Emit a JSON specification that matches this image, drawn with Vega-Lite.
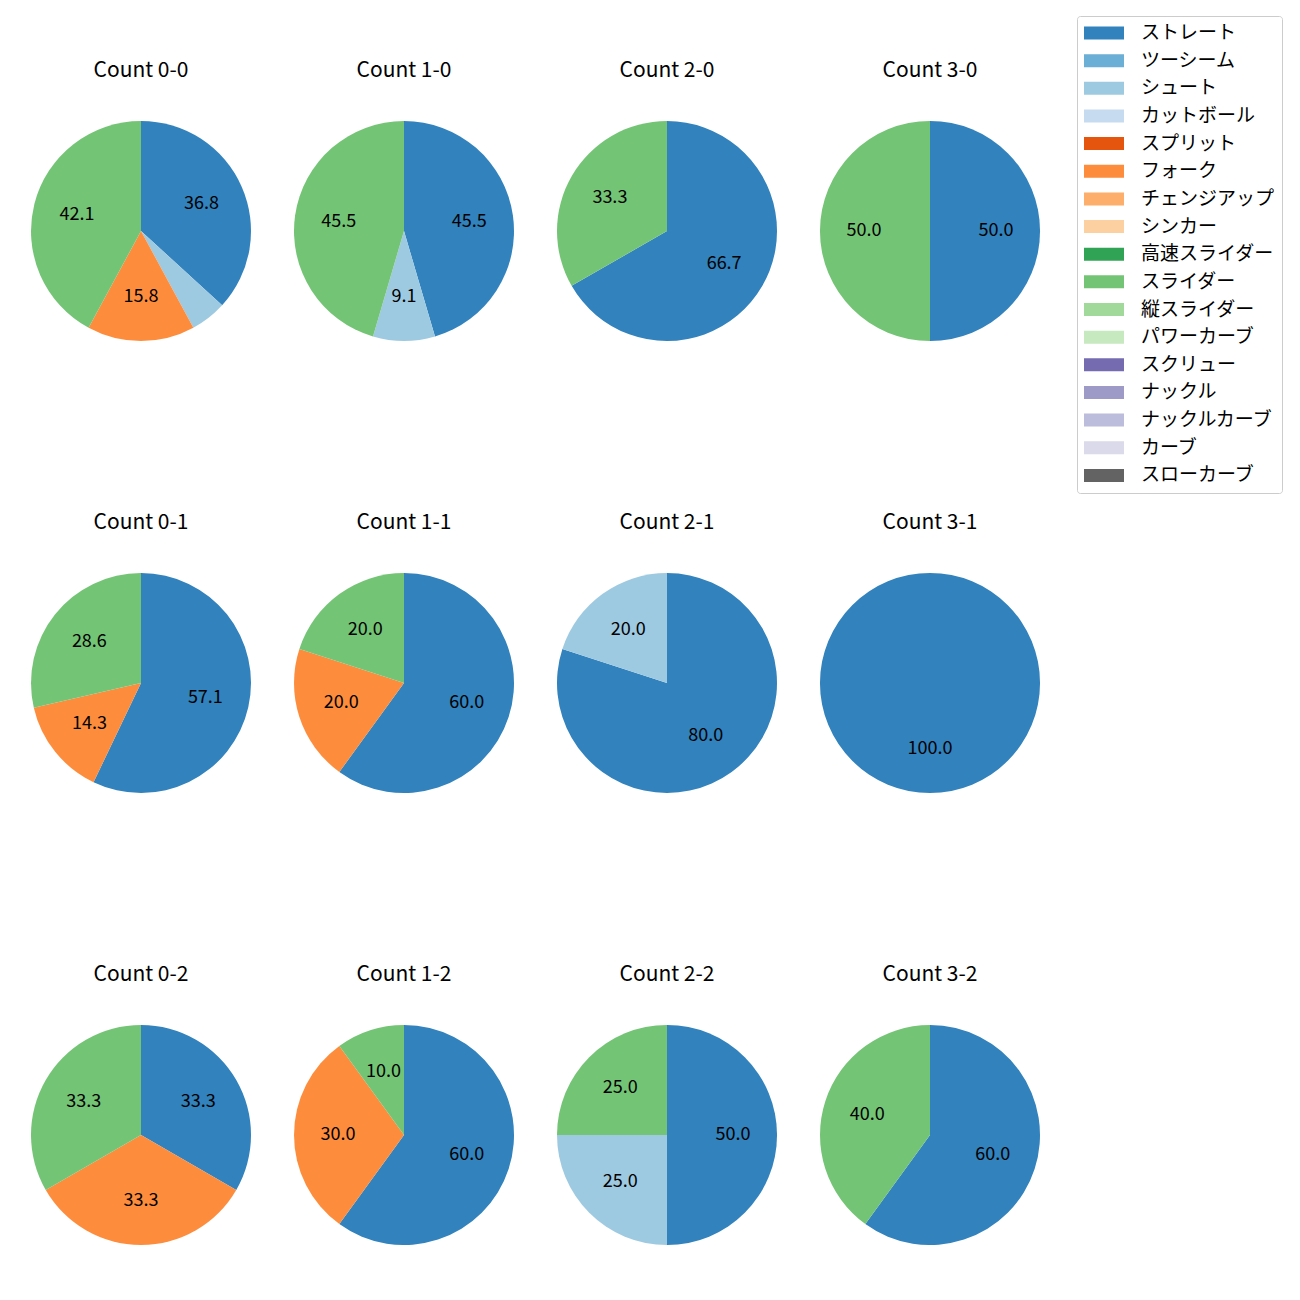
{
  "$schema": "https://vega.github.io/schema/vega-lite/v6.json",
  "padding": {"left": 31, "top": 15, "right": 0, "bottom": 0},
  "background": "white",
  "data": {
    "values": [
      {"count": "Count 0-0", "type": "ストレート", "idx": 0, "pct": 36.8},
      {"count": "Count 0-0", "type": "シュート", "idx": 2, "pct": 5.3},
      {"count": "Count 0-0", "type": "フォーク", "idx": 5, "pct": 15.8},
      {"count": "Count 0-0", "type": "スライダー", "idx": 9, "pct": 42.1},
      {"count": "Count 1-0", "type": "ストレート", "idx": 0, "pct": 45.5},
      {"count": "Count 1-0", "type": "シュート", "idx": 2, "pct": 9.1},
      {"count": "Count 1-0", "type": "スライダー", "idx": 9, "pct": 45.5},
      {"count": "Count 2-0", "type": "ストレート", "idx": 0, "pct": 66.7},
      {"count": "Count 2-0", "type": "スライダー", "idx": 9, "pct": 33.3},
      {"count": "Count 3-0", "type": "ストレート", "idx": 0, "pct": 50.0},
      {"count": "Count 3-0", "type": "スライダー", "idx": 9, "pct": 50.0},
      {"count": "Count 0-1", "type": "ストレート", "idx": 0, "pct": 57.1},
      {"count": "Count 0-1", "type": "フォーク", "idx": 5, "pct": 14.3},
      {"count": "Count 0-1", "type": "スライダー", "idx": 9, "pct": 28.6},
      {"count": "Count 1-1", "type": "ストレート", "idx": 0, "pct": 60.0},
      {"count": "Count 1-1", "type": "フォーク", "idx": 5, "pct": 20.0},
      {"count": "Count 1-1", "type": "スライダー", "idx": 9, "pct": 20.0},
      {"count": "Count 2-1", "type": "ストレート", "idx": 0, "pct": 80.0},
      {"count": "Count 2-1", "type": "シュート", "idx": 2, "pct": 20.0},
      {"count": "Count 3-1", "type": "ストレート", "idx": 0, "pct": 100.0},
      {"count": "Count 0-2", "type": "ストレート", "idx": 0, "pct": 33.3},
      {"count": "Count 0-2", "type": "フォーク", "idx": 5, "pct": 33.3},
      {"count": "Count 0-2", "type": "スライダー", "idx": 9, "pct": 33.3},
      {"count": "Count 1-2", "type": "ストレート", "idx": 0, "pct": 60.0},
      {"count": "Count 1-2", "type": "フォーク", "idx": 5, "pct": 30.0},
      {"count": "Count 1-2", "type": "スライダー", "idx": 9, "pct": 10.0},
      {"count": "Count 2-2", "type": "ストレート", "idx": 0, "pct": 50.0},
      {"count": "Count 2-2", "type": "シュート", "idx": 2, "pct": 25.0},
      {"count": "Count 2-2", "type": "スライダー", "idx": 9, "pct": 25.0},
      {"count": "Count 3-2", "type": "ストレート", "idx": 0, "pct": 60.0},
      {"count": "Count 3-2", "type": "スライダー", "idx": 9, "pct": 40.0}
    ]
  },
  "facet": {
    "field": "count",
    "type": "nominal",
    "sort": ["Count 0-0", "Count 1-0", "Count 2-0", "Count 3-0", "Count 0-1", "Count 1-1", "Count 2-1", "Count 3-1", "Count 0-2", "Count 1-2", "Count 2-2", "Count 3-2"],
    "header": {"title": null, "labelFontSize": 21, "labelFont": "Noto Sans CJK JP", "labelPadding": 40, "labelColor": "black"}
  },
  "columns": 4,
  "spacing": {"row": 171, "column": 43},
  "resolve": {"scale": {"theta": "independent"}},
  "spec": {
    "width": 220,
    "height": 220,
    "layer": [
      {
        "mark": {"type": "arc", "outerRadius": 110},
        "encoding": {
          "theta": {"field": "pct", "type": "quantitative", "stack": true},
          "order": {"field": "idx", "type": "quantitative"},
          "color": {
            "field": "type",
            "type": "nominal",
            "scale": {
              "domain": ["ストレート", "ツーシーム", "シュート", "カットボール", "スプリット", "フォーク", "チェンジアップ", "シンカー", "高速スライダー", "スライダー", "縦スライダー", "パワーカーブ", "スクリュー", "ナックル", "ナックルカーブ", "カーブ", "スローカーブ"],
              "range": ["#3182bd", "#6baed6", "#9ecae1", "#c6dbef", "#e6550d", "#fd8d3c", "#fdae6b", "#fdd0a2", "#31a354", "#74c476", "#a1d99b", "#c7e9c0", "#756bb1", "#9e9ac8", "#bcbddc", "#dadaeb", "#636363"]
            },
            "legend": {
              "orient": "none",
              "legendX": 1046,
              "legendY": -105,
              "title": null,
              "symbolType": "M-2,-0.65H2V0.65H-2Z",
              "symbolSize": 400,
              "symbolStrokeWidth": 0,
              "symbolOffset": 10,
              "labelFontSize": 19,
              "labelFont": "Noto Sans CJK JP",
              "labelColor": "black",
              "labelOffset": 27,
              "strokeColor": "#cccccc",
              "cornerRadius": 3,
              "padding": 7,
              "rowPadding": 7.65,
              "fillColor": "white"
            }
          }
        }
      },
      {
        "mark": {"type": "text", "radius": 66, "fontSize": 18, "font": "Noto Sans CJK JP", "color": "black"},
        "encoding": {
          "theta": {"field": "pct", "type": "quantitative", "stack": true},
          "order": {"field": "idx", "type": "quantitative"},
          "text": {"condition": {"test": "datum.pct < 6", "value": ""}, "field": "pct", "type": "quantitative", "format": ".1f"}
        }
      }
    ]
  },
  "config": {"view": {"stroke": null}}
}
